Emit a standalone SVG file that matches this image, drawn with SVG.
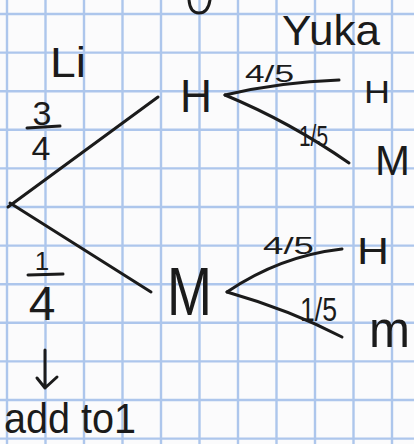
<svg xmlns="http://www.w3.org/2000/svg" width="414" height="444" viewBox="0 0 414 444">
  <style>
    .grid line { stroke: #adc6ec; stroke-width: 2.4; }
    .ink { fill: none; stroke: #1b1b1b; stroke-width: 3; stroke-linecap: round; stroke-linejoin: round; }
    text { font-family: "Liberation Sans", "DejaVu Sans", sans-serif; fill: #1b1b1b; }
  </style>
  <rect width="414" height="444" fill="#fbfbfc"/>
  <g class="grid">
    <line x1="7" y1="0" x2="7" y2="444"/>
    <line x1="45.5" y1="0" x2="45.5" y2="444"/>
    <line x1="84" y1="0" x2="84" y2="444"/>
    <line x1="122.5" y1="0" x2="122.5" y2="444"/>
    <line x1="161" y1="0" x2="161" y2="444"/>
    <line x1="199.5" y1="0" x2="199.5" y2="444"/>
    <line x1="238" y1="0" x2="238" y2="444"/>
    <line x1="276.5" y1="0" x2="276.5" y2="444"/>
    <line x1="315" y1="0" x2="315" y2="444"/>
    <line x1="353.5" y1="0" x2="353.5" y2="444"/>
    <line x1="392" y1="0" x2="392" y2="444"/>
    <line x1="0" y1="14" x2="414" y2="14"/>
    <line x1="0" y1="52.6" x2="414" y2="52.6"/>
    <line x1="0" y1="91.2" x2="414" y2="91.2"/>
    <line x1="0" y1="129.8" x2="414" y2="129.8"/>
    <line x1="0" y1="168.4" x2="414" y2="168.4"/>
    <line x1="0" y1="207" x2="414" y2="207"/>
    <line x1="0" y1="245.6" x2="414" y2="245.6"/>
    <line x1="0" y1="284.2" x2="414" y2="284.2"/>
    <line x1="0" y1="322.8" x2="414" y2="322.8"/>
    <line x1="0" y1="361.4" x2="414" y2="361.4"/>
    <line x1="0" y1="400" x2="414" y2="400"/>
    <line x1="0" y1="438.6" x2="414" y2="438.6"/>
  </g>

  <path class="ink" d="M189,0 Q190,13 199,13 Q208,13 210,0"/>

  <g id="connectors">
    <path class="ink" d="M8,207 L158,97"/>
    <path class="ink" d="M10,203 L151,292"/>
    <path class="ink" d="M225,95 Q280,82 339,80"/>
    <path class="ink" d="M225,95 Q290,122 349,163"/>
    <path class="ink" d="M227,292 Q280,256 342,249"/>
    <path class="ink" d="M227,292 Q290,310 342,337"/>
    <path class="ink" d="M45,350 L45,388 M37,378 L45,388 L57,377"/>
  </g>

  <g id="label-li"><text x="50" y="77" font-size="42" textLength="36" lengthAdjust="spacingAndGlyphs">Li</text></g>
  <g id="label-yuka"><text x="282" y="45" font-size="42" textLength="98" lengthAdjust="spacingAndGlyphs">Yuka</text></g>

  <g id="prob-li-h">
    <text x="42" y="125" font-size="34" text-anchor="middle">3</text>
    <path class="ink" d="M27,128 L60,126"/>
    <text x="41" y="160" font-size="34" text-anchor="middle">4</text>
  </g>
  <g id="prob-li-m">
    <text x="42" y="270" font-size="26" text-anchor="middle">1</text>
    <path class="ink" d="M28,275 L63,274"/>
    <text x="42" y="320" font-size="48" text-anchor="middle">4</text>
  </g>

  <g id="node-h"><text x="180" y="112" font-size="47" textLength="32" lengthAdjust="spacingAndGlyphs">H</text></g>
  <g id="node-m"><text x="167" y="315" font-size="68" textLength="45" lengthAdjust="spacingAndGlyphs">M</text></g>

  <g id="prob-hh"><text x="245" y="82" font-size="24" textLength="49" lengthAdjust="spacingAndGlyphs">4/5</text></g>
  <g id="node-hh"><text x="364" y="103" font-size="32" textLength="26" lengthAdjust="spacingAndGlyphs">H</text></g>
  <g id="prob-hm"><text x="299" y="146" font-size="30" textLength="29" lengthAdjust="spacingAndGlyphs">1/5</text></g>
  <g id="node-hm"><text x="375" y="175" font-size="42" textLength="35" lengthAdjust="spacingAndGlyphs">M</text></g>

  <g id="prob-mh"><text x="263" y="254" font-size="24" textLength="51" lengthAdjust="spacingAndGlyphs">4/5</text></g>
  <g id="node-mh"><text x="357" y="264" font-size="37" textLength="32" lengthAdjust="spacingAndGlyphs">H</text></g>
  <g id="prob-mm"><text x="300" y="321" font-size="34" textLength="37" lengthAdjust="spacingAndGlyphs">1/5</text></g>
  <g id="node-mm"><text x="369" y="347" font-size="52" textLength="41" lengthAdjust="spacingAndGlyphs">m</text></g>

  <g id="note"><text x="4" y="433" font-size="42" textLength="132" lengthAdjust="spacingAndGlyphs">add to1</text></g>
</svg>
